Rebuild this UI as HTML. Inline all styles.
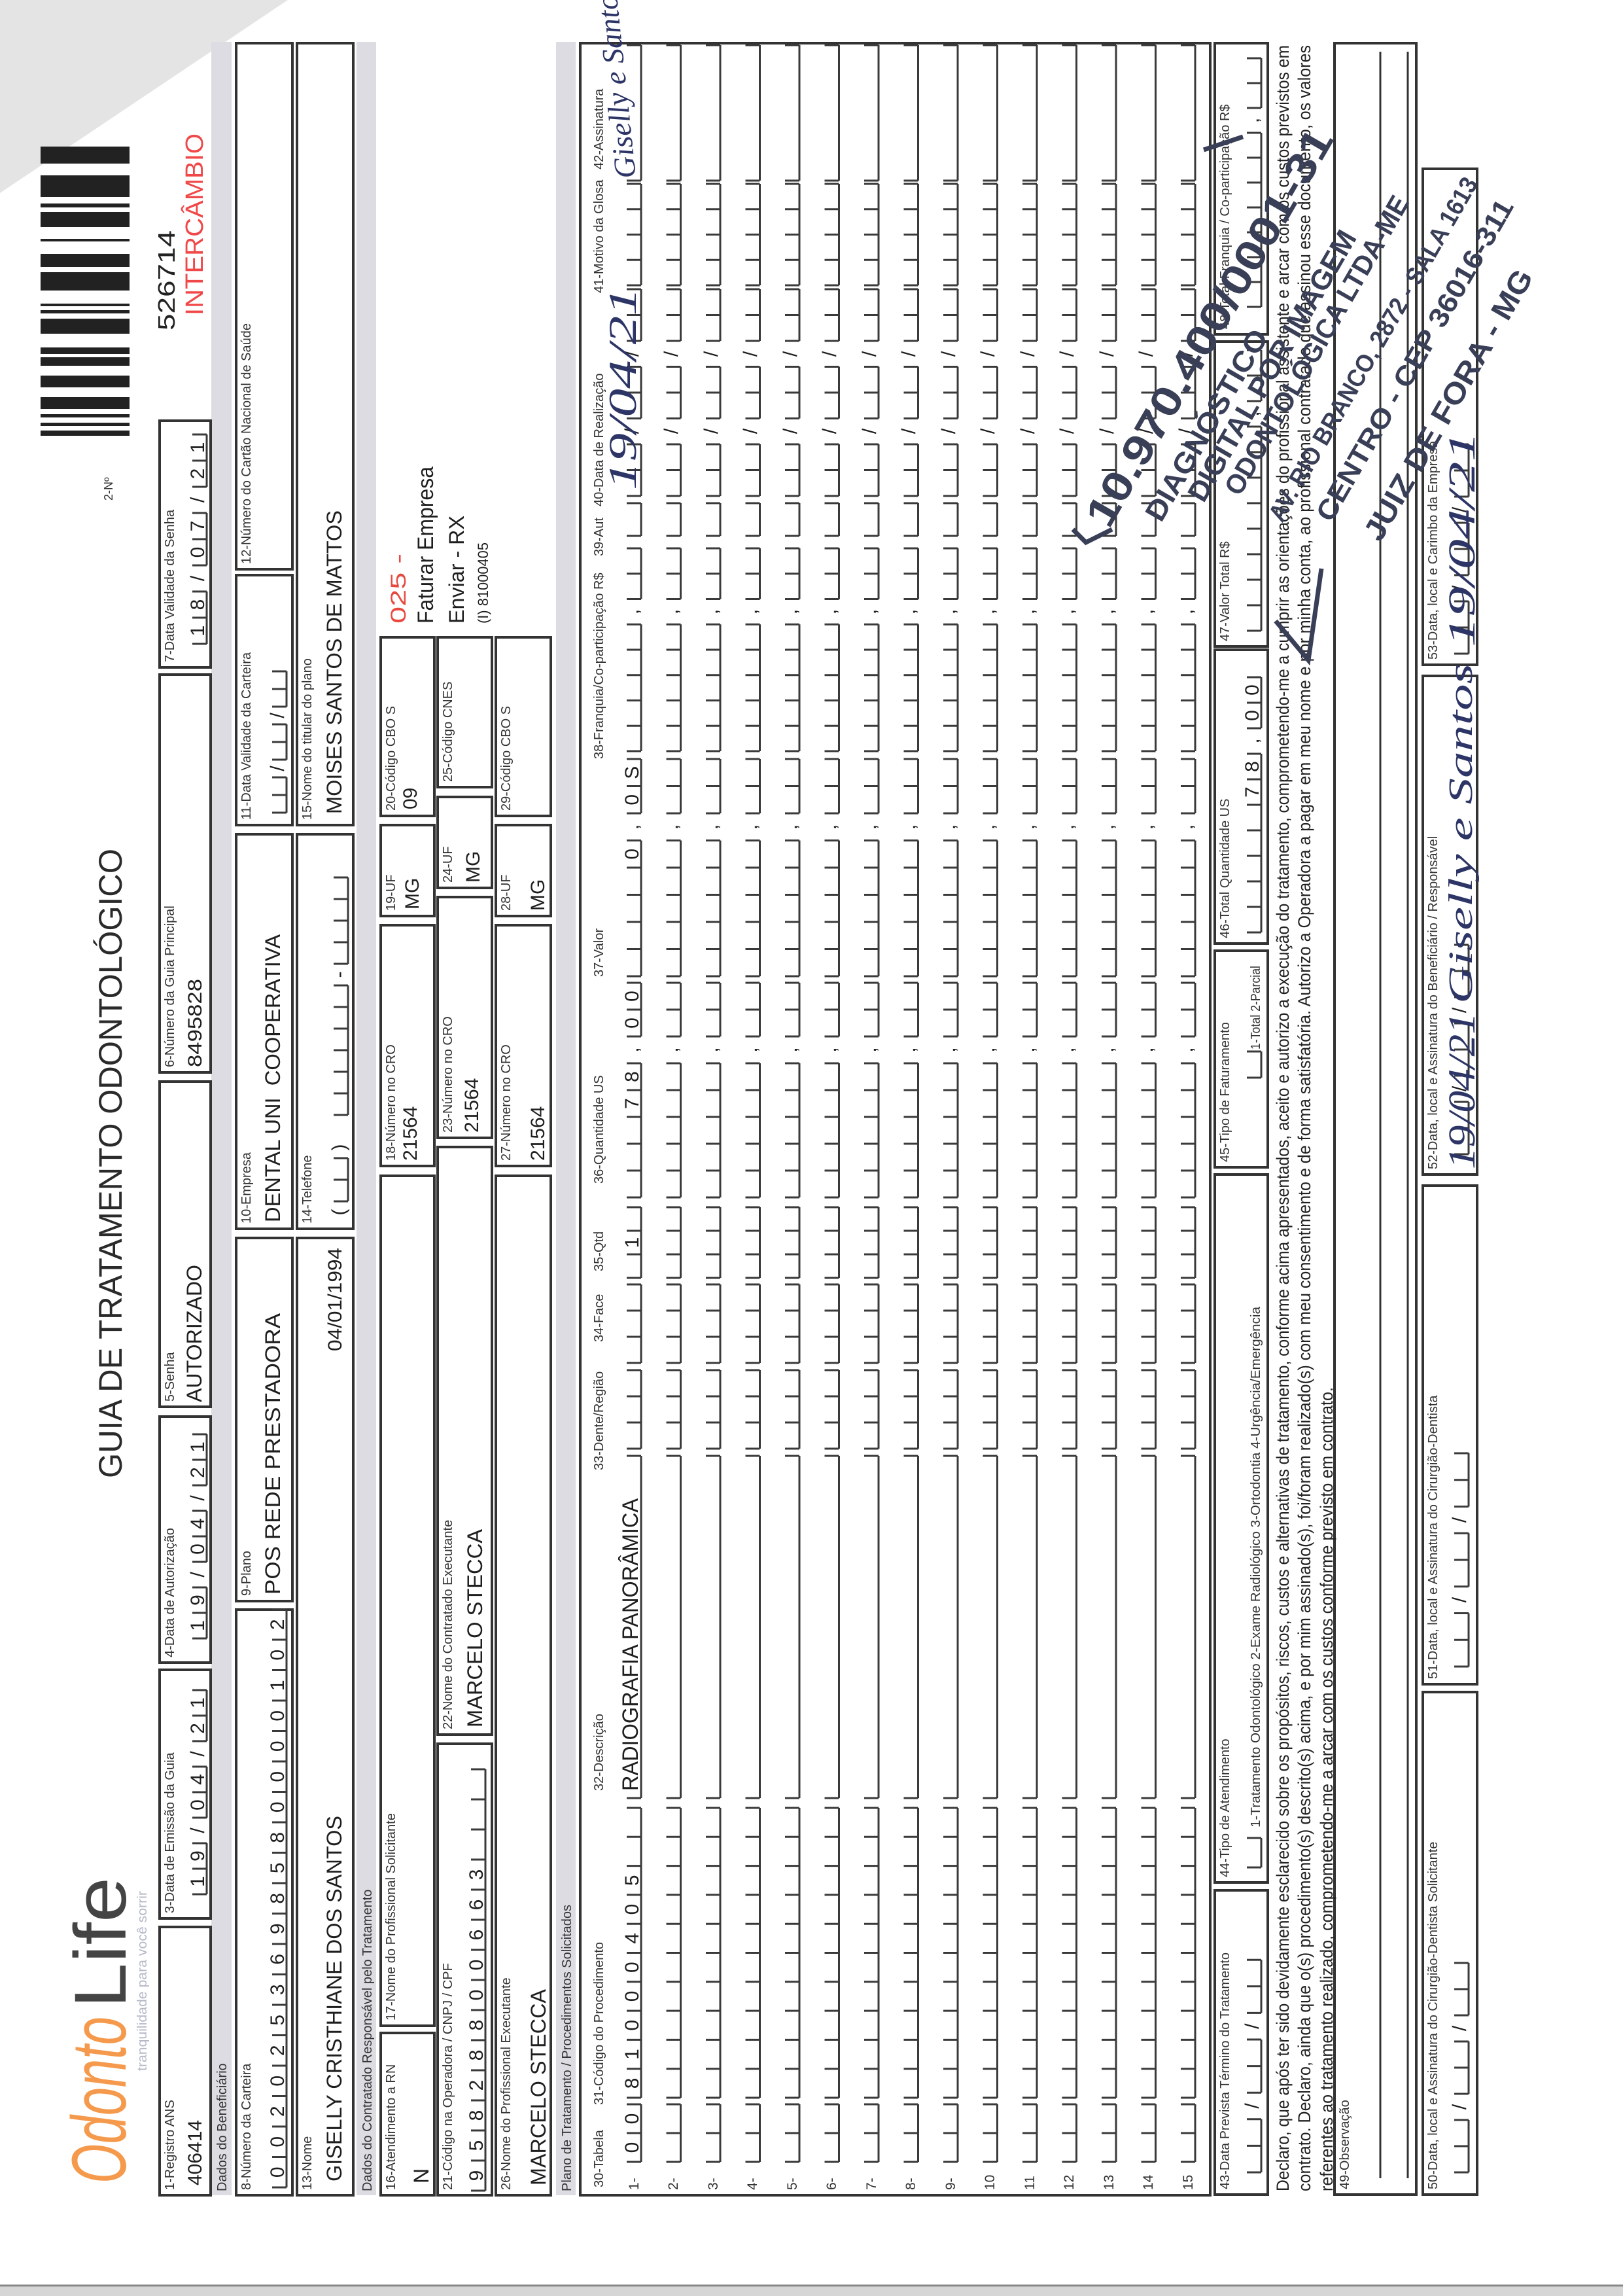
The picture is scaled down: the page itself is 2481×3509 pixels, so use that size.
<!DOCTYPE html>
<html><head><meta charset="utf-8">
<style>
html,body{margin:0;padding:0;background:#fff;}
body{width:2481px;height:3509px;overflow:hidden;position:relative;}
svg{position:absolute;left:0;top:0;}
text{white-space:pre;font-family:"Liberation Sans",Arial,sans-serif;}
.l{font-size:20px;fill:#333;}
.v{font-size:32px;fill:#1e1e1e;}
.d{font-size:30px;fill:#1e1e1e;text-anchor:middle;}
.b{fill:none;stroke:#333;stroke-width:4;}
.hw{font-family:"Liberation Serif",serif;font-style:italic;fill:#2c3566;}
.st{fill:#3a3f58;font-weight:bold;}
</style></head>
<body>
<svg xmlns="http://www.w3.org/2000/svg" width="2481" height="3509" viewBox="0 0 2481 3509" xml:space="preserve">
<!-- image-space extras -->
<rect x="0" y="3494" width="2481" height="15" fill="#d6d6d6"/>
<line x1="0" y1="3493" x2="2481" y2="3493" stroke="#888" stroke-width="3"/>
<polygon points="0,0 440,0 0,295" fill="#e4e4e4"/>
<!-- barcode -->
<g fill="#222">
<rect x="62" y="224" width="136" height="26"/>
<rect x="62" y="268" width="136" height="33"/>
<rect x="62" y="311" width="136" height="6"/>
<rect x="62" y="324" width="136" height="23"/>
<rect x="62" y="365" width="136" height="4"/>
<rect x="62" y="388" width="136" height="20"/>
<rect x="62" y="416" width="136" height="28"/>
<rect x="62" y="464" width="136" height="4"/>
<rect x="62" y="474" width="136" height="5"/>
<rect x="62" y="487" width="136" height="23"/>
<rect x="62" y="531" width="136" height="10"/>
<rect x="62" y="546" width="136" height="13"/>
<rect x="62" y="574" width="136" height="18"/>
<rect x="62" y="607" width="136" height="18"/>
<rect x="62" y="633" width="136" height="5"/>
<rect x="62" y="646" width="136" height="5"/>
<rect x="62" y="658" width="136" height="8"/>
</g>

<g transform="translate(0,3509) rotate(-90)">
<!-- header -->
<text x="172" y="192" font-size="118" fill="#f59a4c" textLength="255" lengthAdjust="spacingAndGlyphs" font-style="italic" font-family="Liberation Serif">Odonto</text>
<text x="440" y="192" font-size="112" fill="#444" textLength="200" lengthAdjust="spacingAndGlyphs">Life</text>
<text x="344" y="224" font-size="20" fill="#b4b8c8" textLength="275" lengthAdjust="spacingAndGlyphs">tranquilidade para você sorrir</text>
<text x="1250" y="186" font-size="50" fill="#2a2a2a" textLength="962" lengthAdjust="spacingAndGlyphs">GUIA DE TRATAMENTO ODONTOLÓGICO</text>
<text x="2744" y="172" font-size="18" fill="#333">2-Nº</text>
<text x="3004" y="267" font-size="36" fill="#222" textLength="153" lengthAdjust="spacingAndGlyphs">526714</text>
<text x="3027" y="310" font-size="38" fill="#f04848" textLength="278" lengthAdjust="spacingAndGlyphs">INTERCÂMBIO</text>

<!-- gray bands -->
<rect x="154" y="323" width="3291" height="31" fill="#dcdce2"/>
<rect x="154" y="545" width="3291" height="30" fill="#dcdce2"/>
<rect x="154" y="850" width="3291" height="30" fill="#dcdce2"/>
<text class="l" x="160" y="346">Dados do Beneficiário</text>
<text class="l" x="160" y="568">Dados do Contratado Responsável pelo Tratamento</text>
<text class="l" x="160" y="873">Plano de Tratamento / Procedimentos Solicitados</text>

<!-- boxes -->
<g class="b">
<rect x="154" y="244" width="410" height="78"/>
<rect x="577" y="244" width="380" height="78"/>
<rect x="968" y="244" width="376" height="78"/>
<rect x="1359" y="244" width="497" height="78"/>
<rect x="1870" y="244" width="608" height="78"/>
<rect x="2489" y="244" width="377" height="78"/>

<rect x="154" y="361" width="895" height="86"/>
<rect x="1062" y="361" width="555" height="86"/>
<rect x="1631" y="361" width="603" height="86"/>
<rect x="2248" y="361" width="382" height="86"/>
<rect x="2639" y="361" width="804" height="86"/>

<rect x="154" y="454" width="1463" height="86"/>
<rect x="1631" y="454" width="603" height="86"/>
<rect x="2248" y="454" width="1195" height="86"/>

<rect x="154" y="582" width="248" height="82"/>
<rect x="413" y="582" width="1299" height="82"/>
<rect x="1727" y="582" width="368" height="82"/>
<rect x="2109" y="582" width="139" height="82"/>
<rect x="2262" y="582" width="273" height="82"/>

<rect x="154" y="669" width="690" height="83"/>
<rect x="858" y="669" width="898" height="83"/>
<rect x="1770" y="669" width="368" height="83"/>
<rect x="2152" y="669" width="139" height="83"/>
<rect x="2306" y="669" width="229" height="83"/>

<rect x="154" y="758" width="1558" height="84"/>
<rect x="1727" y="758" width="368" height="84"/>
<rect x="2109" y="758" width="139" height="84"/>
<rect x="2262" y="758" width="273" height="84"/>

<rect x="154" y="887" width="3289" height="963"/>

<rect x="155" y="1857" width="465" height="81"/>
<rect x="632" y="1857" width="1082" height="81"/>
<rect x="1725" y="1857" width="331" height="81"/>
<rect x="2067" y="1857" width="449" height="81"/>
<rect x="2521" y="1857" width="466" height="81"/>
<rect x="2998" y="1857" width="445" height="81"/>

<rect x="155" y="2040" width="3288" height="125"/>

<rect x="155" y="2175" width="768" height="83"/>
<rect x="935" y="2175" width="762" height="83"/>
<rect x="1714" y="2175" width="762" height="83"/>
<rect x="2493" y="2175" width="758" height="83"/>
</g>
<line x1="180" y1="2110" x2="3430" y2="2110" stroke="#333" stroke-width="3"/>
<line x1="180" y1="2152" x2="3430" y2="2152" stroke="#333" stroke-width="3"/>

<!-- labels -->
<g class="l">
<text x="162" y="266">1-Registro ANS</text>
<text x="585" y="266">3-Data de Emissão da Guia</text>
<text x="976" y="266">4-Data de Autorização</text>
<text x="1367" y="266">5-Senha</text>
<text x="1878" y="266">6-Número da Guia Principal</text>
<text x="2497" y="266">7-Data Validade da Senha</text>
<text x="162" y="383">8-Número da Carteira</text>
<text x="1070" y="383">9-Plano</text>
<text x="1639" y="383">10-Empresa</text>
<text x="2256" y="383">11-Data Validade da Carteira</text>
<text x="2647" y="383">12-Número do Cartão Nacional de Saúde</text>
<text x="162" y="476">13-Nome</text>
<text x="1639" y="476">14-Telefone</text>
<text x="2256" y="476">15-Nome do titular do plano</text>
<text x="162" y="604">16-Atendimento a RN</text>
<text x="421" y="604">17-Nome do Profissional Solicitante</text>
<text x="1735" y="604">18-Número no CRO</text>
<text x="2117" y="604">19-UF</text>
<text x="2270" y="604">20-Código CBO S</text>
<text x="162" y="691">21-Código na Operadora / CNPJ / CPF</text>
<text x="866" y="691">22-Nome do Contratado Executante</text>
<text x="1778" y="691">23-Número no CRO</text>
<text x="2160" y="691">24-UF</text>
<text x="2314" y="691">25-Código CNES</text>
<text x="162" y="780">26-Nome do Profissional Executante</text>
<text x="1735" y="780">27-Número no CRO</text>
<text x="2117" y="780">28-UF</text>
<text x="2270" y="780">29-Código CBO S</text>
<!-- table headers -->
<text x="166" y="922">30-Tabela</text>
<text x="292" y="922">31-Código do Procedimento</text>
<text x="772" y="922">32-Descrição</text>
<text x="1262" y="922">33-Dente/Região</text>
<text x="1458" y="922">34-Face</text>
<text x="1566" y="922">35-Qtd</text>
<text x="1700" y="922">36-Quantidade US</text>
<text x="2016" y="922">37-Valor</text>
<text x="2349" y="922">38-Franquia/Co-participação R$</text>
<text x="2659" y="922">39-Aut</text>
<text x="2735" y="922">40-Data de Realização</text>
<text x="3061" y="922">41-Motivo da Glosa</text>
<text x="3250" y="922">42-Assinatura</text>
<!-- bottom -->
<text x="163" y="1879">43-Data Prevista Término do Tratamento</text>
<text x="640" y="1879">44-Tipo de Atendimento</text>
<text x="1733" y="1879">45-Tipo de Faturamento</text>
<text x="2075" y="1879">46-Total Quantidade US</text>
<text x="2529" y="1879">47-Valor Total R$</text>
<text x="3006" y="1879">48-Total Franquia / Co-participação R$</text>
<text x="716" y="1926" textLength="796" lengthAdjust="spacingAndGlyphs">1-Tratamento Odontológico 2-Exame Radiológico 3-Ortodontia 4-Urgência/Emergência</text>
<text x="1905" y="1926" textLength="128" lengthAdjust="spacingAndGlyphs">1-Total 2-Parcial</text>
<text x="163" y="2062">49-Observação</text>
<text x="163" y="2197">50-Data, local e Assinatura do Cirurgião-Dentista Solicitante</text>
<text x="943" y="2197">51-Data, local e Assinatura do Cirurgião-Dentista</text>
<text x="1722" y="2197">52-Data, local e Assinatura do Beneficiário / Responsável</text>
<text x="2501" y="2197">53-Data, local e Carimbo da Empresa</text>
</g>

<!-- row numbers -->
<g font-size="21" fill="#333">
<text x="162" y="976">1-</text><text x="162" y="1036">2-</text><text x="162" y="1097">3-</text>
<text x="162" y="1157">4-</text><text x="162" y="1218">5-</text><text x="162" y="1278">6-</text>
<text x="162" y="1339">7-</text><text x="162" y="1399">8-</text><text x="162" y="1460">9-</text>
<text x="162" y="1520">10</text><text x="162" y="1581">11</text><text x="162" y="1641">12</text>
<text x="162" y="1702">13</text><text x="162" y="1762">14</text><text x="162" y="1823">15</text>
</g>

<!-- declaration -->
<g font-size="27" fill="#222">
<text x="160" y="1970" textLength="3280" lengthAdjust="spacingAndGlyphs">Declaro, que após ter sido devidamente esclarecido sobre os propósitos, riscos, custos e alternativas de tratamento, conforme acima apresentados, aceito e autorizo a execução do tratamento, comprometendo-me a cumprir as orientações do profissional assistente e arcar com os custos previstos em</text>
<text x="160" y="2003" textLength="3280" lengthAdjust="spacingAndGlyphs">contrato. Declaro, ainda que o(s) procedimento(s) descrito(s) acima, e por mim assinado(s), foi/foram realizado(s) com meu consentimento e de forma satisfatória. Autorizo a Operadora a pagar em meu nome e por minha conta, ao profissional contratado que assinou esse documento, os valores</text>
<text x="160" y="2037" textLength="1229" lengthAdjust="spacingAndGlyphs">referentes ao tratamento realizado, comprometendo-me a arcar com os custos conforme previsto em contrato.</text>
</g>

<!-- values -->
<g class="v">
<text x="169" y="308" font-size="30">406414</text>
<text x="1366" y="308" textLength="210" lengthAdjust="spacingAndGlyphs">AUTORIZADO</text>
<text x="1878" y="308" font-size="30" textLength="135" lengthAdjust="spacingAndGlyphs">8495828</text>
<text x="1072" y="428" textLength="430" lengthAdjust="spacingAndGlyphs">POS REDE PRESTADORA</text>
<text x="1641" y="428" textLength="440" lengthAdjust="spacingAndGlyphs">DENTAL UNI  COOPERATIVA</text>
<text x="175" y="522" textLength="559" lengthAdjust="spacingAndGlyphs">GISELLY CRISTHIANE DOS SANTOS</text>
<text x="1444" y="522" font-size="30" textLength="158" lengthAdjust="spacingAndGlyphs">04/01/1994</text>
<text x="2265" y="522" textLength="464" lengthAdjust="spacingAndGlyphs">MOISES SANTOS DE MATTOS</text>
<text x="172" y="655">N</text>
<text x="1735" y="637" font-size="30">21564</text>
<text x="2119" y="640" font-size="30">MG</text>
<text x="2272" y="637" font-size="30">09</text>
<text x="869" y="737" textLength="303" lengthAdjust="spacingAndGlyphs">MARCELO STECCA</text>
<text x="1778" y="731" font-size="30">21564</text>
<text x="2160" y="733" font-size="30">MG</text>
<text x="169" y="834" textLength="300" lengthAdjust="spacingAndGlyphs">MARCELO STECCA</text>
<text x="1735" y="832" font-size="30">21564</text>
<text x="2117" y="832" font-size="30">MG</text>
<text x="2556" y="620" font-size="32" fill="#e8483e" textLength="107" lengthAdjust="spacingAndGlyphs">025 -</text>
<text x="2556" y="662" font-size="34" textLength="240" lengthAdjust="spacingAndGlyphs">Faturar Empresa</text>
<text x="2556" y="709" font-size="32" textLength="165" lengthAdjust="spacingAndGlyphs">Enviar - RX</text>
<text x="2556" y="746" font-size="22" textLength="124" lengthAdjust="spacingAndGlyphs">(I) 81000405</text>
<text x="772" y="975" font-size="34" textLength="447" lengthAdjust="spacingAndGlyphs">RADIOGRAFIA PANORÂMICA</text>
</g>

<!-- cell digits -->
<g class="d">
<text x="633.5 672.5 711.5 750.5 789.5 828.5 867.5 906.5" y="312">19/04/21</text>
<text x="1024.5 1063.5 1102.5 1141.5 1180.5 1219.5 1258.5 1297.5" y="312">19/04/21</text>
<text x="2545 2585 2625 2665 2705 2745 2785 2825" y="312">18/07/21</text>
<text x="189.25 235.75 282.25 328.75 375.25 421.75 468.25 514.75 561.25 607.75 654.25 700.75 747.25 793.75 840.25 886.75 933.25 979.75 1026.25" y="434">0020253698580000102</text>
<text x="2334.5 2415.5" y="434">//</text>
<text x="1656.5 1755.5 2019.5" y="528">()-</text>
<text x="184 230 276 322 368 414 460 506 552 598 644" y="738">95828800663</text>
<text x="290.5 412.3" y="1924">//</text>
<text x="2298.5 2337.5 2376.5 2415.5 2454.5" y="1924">78,00</text>
<text x="2876.5" y="1924">,</text>
<text x="3325" y="1924">,</text>
<text x="289 409" y="2241">//</text>
<text x="1063.9 1186.1" y="2241">//</text>
<text x="1845 1965" y="2241">//</text>
<text x="2610 2730" y="2241">//</text>
<!-- row1 -->
<text x="227 271 325.15 369.45 413.75 458.05 502.35 546.65 590.95 635.25 1610 1822.5 1863.5 1945.5 1986.5 2203.75 2286.75 2328.25 2715" y="976">00810004051780000S</text>
<text x="1904.5 2245 2574 2850 2968" y="976">,,,//</text>
<text x="1904.5 2245 2574 2850 2968" y="1036">,,,//</text>
<text x="1904.5 2245 2574 2850 2968" y="1097">,,,//</text>
<text x="1904.5 2245 2574 2850 2968" y="1157">,,,//</text>
<text x="1904.5 2245 2574 2850 2968" y="1218">,,,//</text>
<text x="1904.5 2245 2574 2850 2968" y="1278">,,,//</text>
<text x="1904.5 2245 2574 2850 2968" y="1339">,,,//</text>
<text x="1904.5 2245 2574 2850 2968" y="1399">,,,//</text>
<text x="1904.5 2245 2574 2850 2968" y="1460">,,,//</text>
<text x="1904.5 2245 2574 2850 2968" y="1520">,,,//</text>
<text x="1904.5 2245 2574 2850 2968" y="1581">,,,//</text>
<text x="1904.5 2245 2574 2850 2968" y="1641">,,,//</text>
<text x="1904.5 2245 2574 2850 2968" y="1702">,,,//</text>
<text x="1904.5 2245 2574 2850 2968" y="1762">,,,//</text>
<text x="1904.5 2245 2574 2850 2968" y="1823">,,,//</text>
</g>

<path id="ticks" d="" fill="none" stroke="#3a3a3a" stroke-width="3"/>

<!-- handwriting -->
<text class="hw" x="2760" y="972" font-size="60" textLength="310" lengthAdjust="spacingAndGlyphs">19/04/21</text>
<text class="hw" x="3238" y="972" font-size="46" textLength="300" lengthAdjust="spacingAndGlyphs" transform="rotate(-6 3238 972)">Giselly e Santos</text>
<text class="hw" x="1722" y="2254" font-size="58" textLength="240" lengthAdjust="spacingAndGlyphs">19/04/21</text>
<text class="hw" x="1975" y="2250" font-size="52" textLength="520" lengthAdjust="spacingAndGlyphs">Giselly e Santos</text>
<text class="hw" x="2520" y="2254" font-size="58" textLength="330" lengthAdjust="spacingAndGlyphs">19/04/21</text>

<!-- stamp -->
<g class="st">
<text x="2699" y="1695" font-size="64" textLength="690" lengthAdjust="spacingAndGlyphs" transform="rotate(30 2699 1695)">10.970.400/0001-31</text>
<text x="2709" y="1775" font-size="44" textLength="330" lengthAdjust="spacingAndGlyphs" transform="rotate(30 2709 1775)">DIAGNÓSTICO</text>
<text x="2739" y="1840" font-size="44" textLength="470" lengthAdjust="spacingAndGlyphs" transform="rotate(30 2739 1840)">DIGITAL POR IMAGEM</text>
<text x="2749" y="1895" font-size="42" textLength="520" lengthAdjust="spacingAndGlyphs" transform="rotate(30 2749 1895)">ODONTOLÓGICA LTDA-ME</text>
<text x="2709" y="1960" font-size="38" textLength="600" lengthAdjust="spacingAndGlyphs" transform="rotate(30 2709 1960)">AV. RIO BRANCO, 2872 - SALA 1613</text>
<text x="2709" y="2035" font-size="42" textLength="560" lengthAdjust="spacingAndGlyphs" transform="rotate(30 2709 2035)">CENTRO - CEP 36016-311</text>
<text x="2679" y="2110" font-size="46" textLength="470" lengthAdjust="spacingAndGlyphs" transform="rotate(30 2679 2110)">JUIZ DE FORA - MG</text>
</g>
<g stroke="#3a3f58" stroke-width="7" fill="none">
<path d="M2700 1640 L2680 1660 L2700 1700"/>
<path d="M2560 1950 L2500 2000 L2640 2020"/>
<path d="M3280 1840 L3300 1900"/>
</g>
</g>
</svg>
<script>
(function(){
  var d=[];
  function fld(u0,v,p,pat){
    for(var k=0;k<pat.length;k++){
      if(pat[k]!=='c') continue;
      var a=u0+k*p,b=a+p;
      d.push('M'+a+' '+v+'L'+b+' '+v);
      d.push('M'+a+' '+(v-22)+'L'+a+' '+v);
      d.push('M'+b+' '+(v-22)+'L'+b+' '+v);
    }
  }
  function ul(a,b,v){d.push('M'+a+' '+v+'L'+b+' '+v+'M'+a+' '+(v-22)+'L'+a+' '+v+'M'+b+' '+(v-22)+'L'+b+' '+v);}
  fld(614,316,39,'cc/cc/cc');
  fld(1005,316,39,'cc/cc/cc');
  fld(2525,316,40,'cc/cc/cc');
  fld(166,438,46.5,'ccccccccccccccccccc');
  fld(2267,438,27,'cc/cc/cc');
  fld(1640,532,33,'(cc) cccccc-cccc');
  fld(161,742,46,'cccccccccccccc');
  fld(189,1928,40.6,'cc/cc/cc');
  fld(655,1928,45,'c');
  fld(1862,1928,40,'c');
  fld(2084,1928,39,'ccccccc,cc');
  fld(2545,1928,39,'cccccccc,cc');
  fld(3040,1928,38,'ccccccc,cc');
  fld(189,2245,40,'cc/cc/cc');
  fld(962,2245,40.75,'cc/cc/cc');
  fld(1745,2245,40,'cc/cc/cc');
  fld(2510,2245,40,'cc/cc/cc');
  for(var i=0;i<15;i++){
    var v=980+i*60.5;
    fld(205,v,44,'cc');
    fld(303,v,44.3,'cccccccccc');
    ul(761,1284,v);
    fld(1295,v,40,'ccc');
    fld(1426,v,40,'ccc');
    fld(1556,v,36,'ccc');
    fld(1679,v,41,'ccccc,cc');
    fld(2017,v,41.5,'ccccc,cc');
    fld(2361,v,38.75,'ccccc,cc');
    fld(2690,v,50,'c');
    fld(2751,v,39.5,'cc/cc/cc');
    fld(3073,v,38.75,'cccc');
    ul(3233,3440,v);
  }
  document.getElementById('ticks').setAttribute('d',d.join(''));
})();
</script>
</body></html>
